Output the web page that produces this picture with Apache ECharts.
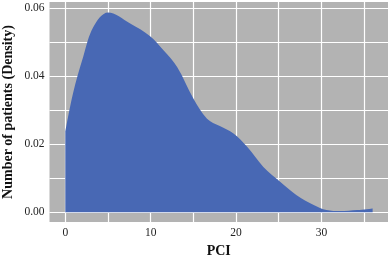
<!DOCTYPE html>
<html>
<head>
<meta charset="utf-8">
<script src="https://cdn.jsdelivr.net/npm/echarts@6/dist/echarts.min.js"></script>
<style>
    html, body { margin: 0; padding: 0; background: #fff; }
    #chart { width: 388px; height: 259px; }
</style>
</head>
<body>
<div id="chart"></div>
<script>
// density curve
var pci = [0, 0.9, 2.1, 3.3, 5.0, 7.6, 9.9, 11.5, 13.1, 15.0, 16.6, 18.1, 19.7, 21.3, 23.2, 25.2, 27.1, 29.1, 30.6, 32.2, 34.2, 36.0];
var density = [0.0236, 0.0349, 0.0457, 0.0545, 0.0587, 0.0555, 0.0518, 0.0476, 0.0427, 0.0334, 0.0275, 0.0253, 0.0231, 0.0192, 0.0133, 0.0089, 0.0050, 0.0021, 0.0006, 0.0003, 0.0006, 0.0011];

// grid lines and tick labels
var xGrid = [0, 5, 10, 15, 20, 25, 30, 35];
var xLabels = [0, 10, 20, 30];
var yGrid = [0, 0.01, 0.02, 0.03, 0.04, 0.05, 0.06];
var yLabels = [0, 0.02, 0.04, 0.06];

var points = [];
for (var i = 0; i < pci.length; i++)
    points.push([pci[i], density[i]]);

var font = '"Liberation Serif", "DejaVu Serif", serif';
var myChart = echarts.init(document.getElementById('chart'));

var option = {
    animation: false,
    grid: {
        left: 49.5, right: 0, top: 2, bottom: 37,
        outerBoundsMode: 'none', containLabel: false,
        show: true, backgroundColor: '#b3b3b3', borderWidth: 0
    },
    xAxis: {
        type: 'value',
        min: -1.85, max: 37.8,
        name: 'PCI', nameLocation: 'middle', nameGap: 22, nameMoveOverlap: false,
        nameTextStyle: { fontFamily: font, fontSize: 14, fontWeight: 'bold', color: '#111' },
        axisLine: { show: false },
        axisTick: { show: false, customValues: xGrid },
        axisLabel: { customValues: xLabels, margin: 5, fontFamily: font, fontSize: 11.5, color: '#222' },
        splitLine: { show: true, lineStyle: { color: '#ffffff', width: 1.2 } }
    },
    yAxis: {
        type: 'value',
        min: -0.0029, max: 0.0618,
        name: 'Number of patients (Density)', nameLocation: 'middle', nameGap: 34, nameMoveOverlap: false,
        nameTextStyle: { fontFamily: font, fontSize: 14, fontWeight: 'bold', color: '#111' },
        axisLine: { show: false },
        axisTick: { show: false, customValues: yGrid },
        axisLabel: {
            customValues: yLabels, margin: 5, fontFamily: font, fontSize: 11.5, color: '#222',
            formatter: function (v) { return v.toFixed(2); }
        },
        splitLine: { show: true, lineStyle: { color: '#ffffff', width: 1.2 } }
    },
    series: [{
        type: 'line',
        data: points,
        smooth: 0.35,
        showSymbol: false,
        lineStyle: { width: 0 },
        areaStyle: { color: '#4868b4', opacity: 1, origin: 0 }
    }]
};
myChart.setOption(option);
</script>
</body>
</html>
